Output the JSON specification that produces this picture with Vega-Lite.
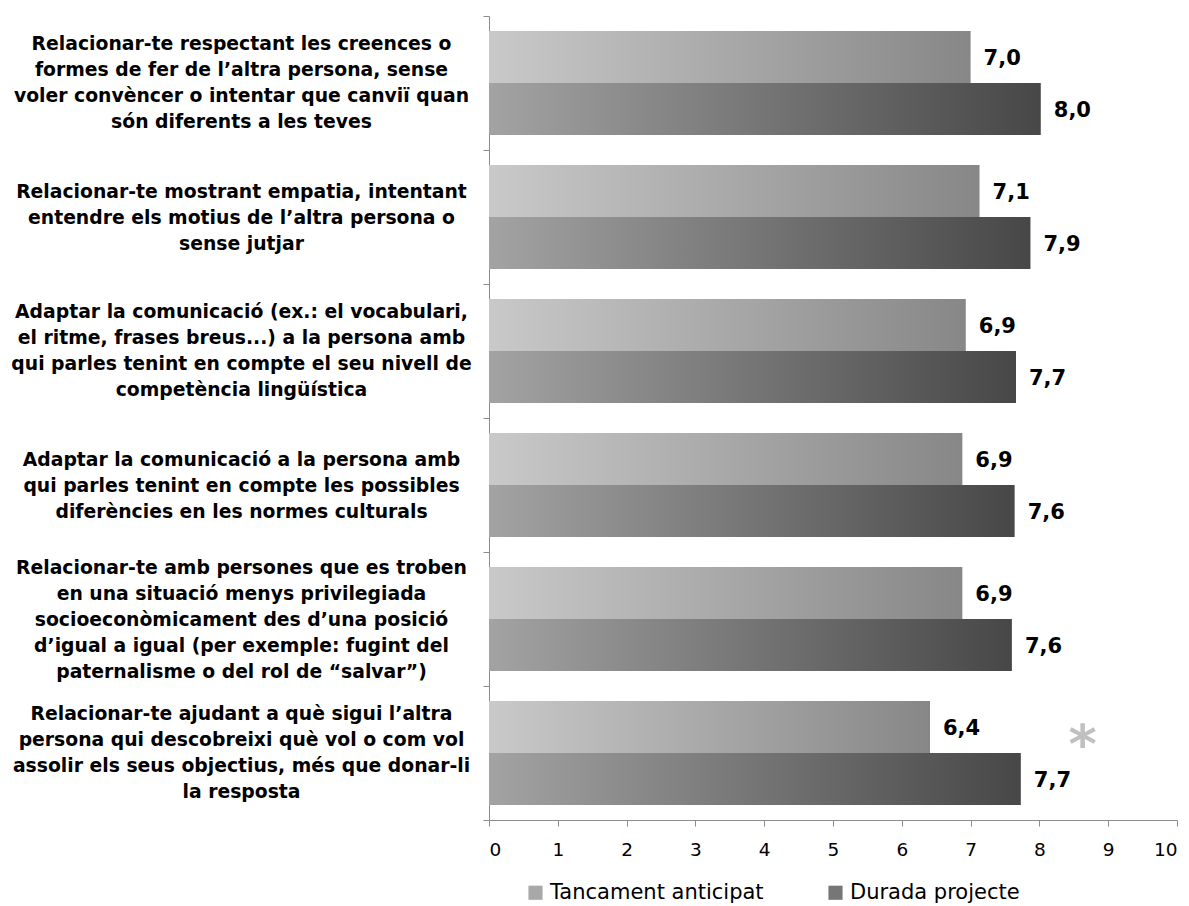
{
  "$schema": "https://vega.github.io/schema/vega-lite/v6.json",
  "width": 688,
  "height": 804,
  "autosize": {"type": "none"},
  "padding": {"left": 489, "top": 16, "right": 12, "bottom": 86},
  "background": "white",
  "config": {
    "view": {"stroke": null},
    "font": "DejaVu Sans",
    "locale": {"number": {"decimal": ",", "thousands": ".", "grouping": [3], "currency": ["", " €"]}},
    "axis": {"domainColor": "#8c8c8c", "tickColor": "#8c8c8c", "grid": false, "labelColor": "#000000", "labelFont": "DejaVu Sans"}
  },
  "datasets": {
    "bars": [
      {"cat": "Relacionar-te respectant les creences o|formes de fer de l’altra persona, sense|voler convèncer o intentar que canviï quan|són diferents a les teves", "serie": "Tancament anticipat", "valor": 7.0},
      {"cat": "Relacionar-te respectant les creences o|formes de fer de l’altra persona, sense|voler convèncer o intentar que canviï quan|són diferents a les teves", "serie": "Durada projecte", "valor": 8.02},
      {"cat": "Relacionar-te mostrant empatia, intentant|entendre els motius de l’altra persona o|sense jutjar", "serie": "Tancament anticipat", "valor": 7.13},
      {"cat": "Relacionar-te mostrant empatia, intentant|entendre els motius de l’altra persona o|sense jutjar", "serie": "Durada projecte", "valor": 7.87},
      {"cat": "Adaptar la comunicació (ex.: el vocabulari,|el ritme, frases breus...) a la persona amb|qui parles tenint en compte el seu nivell de|competència lingüística", "serie": "Tancament anticipat", "valor": 6.93},
      {"cat": "Adaptar la comunicació (ex.: el vocabulari,|el ritme, frases breus...) a la persona amb|qui parles tenint en compte el seu nivell de|competència lingüística", "serie": "Durada projecte", "valor": 7.66},
      {"cat": "Adaptar la comunicació a la persona amb|qui parles tenint en compte les possibles|diferències en les normes culturals", "serie": "Tancament anticipat", "valor": 6.88},
      {"cat": "Adaptar la comunicació a la persona amb|qui parles tenint en compte les possibles|diferències en les normes culturals", "serie": "Durada projecte", "valor": 7.64},
      {"cat": "Relacionar-te amb persones que es troben|en una situació menys privilegiada|socioeconòmicament des d’una posició|d’igual a igual (per exemple: fugint del|paternalisme o del rol de “salvar”)", "serie": "Tancament anticipat", "valor": 6.88},
      {"cat": "Relacionar-te amb persones que es troben|en una situació menys privilegiada|socioeconòmicament des d’una posició|d’igual a igual (per exemple: fugint del|paternalisme o del rol de “salvar”)", "serie": "Durada projecte", "valor": 7.6},
      {"cat": "Relacionar-te ajudant a què sigui l’altra|persona qui descobreixi què vol o com vol|assolir els seus objectius, més que donar-li|la resposta", "serie": "Tancament anticipat", "valor": 6.41},
      {"cat": "Relacionar-te ajudant a què sigui l’altra|persona qui descobreixi què vol o com vol|assolir els seus objectius, més que donar-li|la resposta", "serie": "Durada projecte", "valor": 7.73}
    ],
    "marca": [
      {"cat": "Relacionar-te ajudant a què sigui l’altra|persona qui descobreixi què vol o com vol|assolir els seus objectius, més que donar-li|la resposta", "valor": 8.63, "simbol": "*"}
    ]
  },
  "encoding": {
    "y": {
      "field": "cat", "type": "nominal", "sort": null,
      "scale": {"paddingInner": 0, "paddingOuter": 0},
      "axis": {
        "title": null, "tickBand": "extent", "tickSize": 6,
        "labelExpr": "isValid(datum.value) ? split(datum.value, '|') : ''",
        "labelAlign": "center", "labelBaseline": "middle",
        "labelPadding": 242, "labelLimit": 500,
        "labelFontSize": 18.8, "labelFontWeight": "bold", "labelLineHeight": 26,
        "labelOffset": {
          "condition": [
            {"test": "isValid(datum.value) && length(split(datum.value, '|')) == 3", "value": -26},
            {"test": "isValid(datum.value) && length(split(datum.value, '|')) == 4", "value": -40},
            {"test": "isValid(datum.value) && length(split(datum.value, '|')) == 5", "value": -52}
          ],
          "value": 0
        }
      }
    },
    "x": {
      "field": "valor", "type": "quantitative",
      "scale": {"domain": [0, 10], "nice": false},
      "axis": {"title": null, "values": [0,1,2,3,4,5,6,7,8,9,10], "tickSize": 6, "labelFontSize": 18.5, "labelPadding": 14, "format": "d"}
    },
    "yOffset": {"field": "serie", "type": "nominal", "scale": {"domain": ["Tancament anticipat", "Durada projecte"], "paddingInner": 0, "paddingOuter": 0.29}}
  },
  "layer": [
    {
      "data": {"name": "bars"},
      "mark": {"type": "bar", "opacity": 0},
      "encoding": {
        "color": {
          "field": "serie", "type": "nominal",
          "scale": {"domain": ["Tancament anticipat", "Durada projecte"], "range": ["#a8a8a8", "#767676"]},
          "legend": {
            "title": null, "orient": "none", "legendX": 36, "legendY": 866, "direction": "horizontal",
            "symbolType": "square", "symbolSize": 200, "symbolStrokeWidth": 0, "symbolOpacity": 1,
            "labelFontSize": 21, "labelColor": "#000000", "labelLimit": 400, "columnPadding": 61, "labelOffset": 4,
            "encode": {
              "symbols": {
                "update": {
                  "fill": {"signal": "datum.value == 'Tancament anticipat' ? {gradient: 'linear', x1: 0, y1: 0, x2: 1, y2: 0, stops: [{offset: 0, color: '#d0d0d0'}, {offset: 1, color: '#7a7a7a'}]} : {gradient: 'linear', x1: 0, y1: 0, x2: 1, y2: 0, stops: [{offset: 0, color: '#a3a3a3'}, {offset: 1, color: '#3e3e3e'}]}"},
                  "opacity": {"value": 1}
                }
              }
            }
          }
        }
      }
    },
    {
      "data": {"name": "bars"},
      "transform": [{"filter": "datum.serie == 'Tancament anticipat'"}],
      "mark": {"type": "bar", "fill": {"gradient": "linear", "x1": 0, "y1": 0, "x2": 1, "y2": 0, "stops": [{"offset": 0, "color": "#c9c9c9"}, {"offset": 1, "color": "#878787"}]}}
    },
    {
      "data": {"name": "bars"},
      "transform": [{"filter": "datum.serie == 'Durada projecte'"}],
      "mark": {"type": "bar", "fill": {"gradient": "linear", "x1": 0, "y1": 0, "x2": 1, "y2": 0, "stops": [{"offset": 0, "color": "#a3a3a3"}, {"offset": 1, "color": "#474747"}]}}
    },
    {
      "data": {"name": "bars"},
      "mark": {"type": "text", "align": "left", "baseline": "middle", "dx": 13, "dy": 2, "fontSize": 21, "fontWeight": "bold", "color": "#000000"},
      "encoding": {
        "text": {"field": "valor", "type": "quantitative", "format": ".1f"}
      }
    },
    {
      "data": {"name": "marca"},
      "mark": {"type": "text", "align": "center", "baseline": "middle", "dy": -6, "fontSize": 54, "fontWeight": "bold", "color": "#c0c0c0"},
      "encoding": {
        "yOffset": null,
        "text": {"field": "simbol", "type": "nominal"}
      }
    }
  ]
}
